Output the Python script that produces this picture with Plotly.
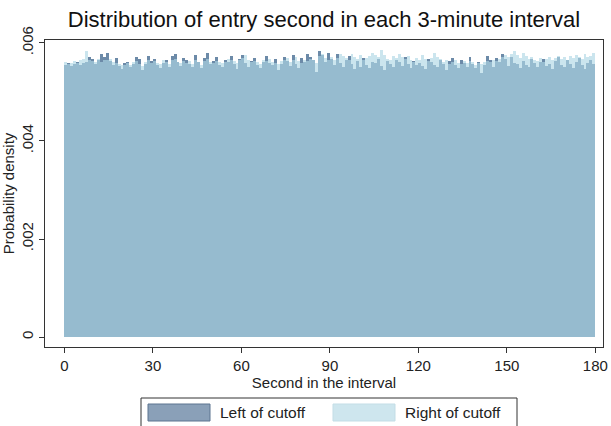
import plotly.graph_objects as go

# Entry second within each 3-minute interval (1-second bins, 0-179)
seconds = list(range(180))

left_density = [
    0.00556, 0.00560, 0.00554, 0.00558, 0.00562, 0.00555, 0.00559, 0.00561, 0.00572, 0.00568,
    0.00557, 0.00566, 0.00578, 0.00571, 0.00580, 0.00563, 0.00555, 0.00569, 0.00553, 0.00547,
    0.00559, 0.00562, 0.00550, 0.00557, 0.00571, 0.00567, 0.00545, 0.00558, 0.00574, 0.00563,
    0.00568, 0.00556, 0.00549, 0.00560, 0.00565, 0.00552, 0.00573, 0.00577, 0.00561, 0.00554,
    0.00570, 0.00566, 0.00558, 0.00551, 0.00575, 0.00562, 0.00548, 0.00569, 0.00579, 0.00557,
    0.00563, 0.00572, 0.00555, 0.00550, 0.00566, 0.00561, 0.00574, 0.00558, 0.00547, 0.00568,
    0.00576, 0.00559, 0.00552, 0.00564, 0.00570, 0.00556, 0.00549, 0.00562, 0.00573, 0.00560,
    0.00555, 0.00567, 0.00545, 0.00558, 0.00571, 0.00563, 0.00553, 0.00576, 0.00557, 0.00549,
    0.00569, 0.00561, 0.00578, 0.00572, 0.00566, 0.00541, 0.00584, 0.00575, 0.00562, 0.00580,
    0.00568, 0.00555, 0.00577, 0.00560, 0.00551, 0.00565, 0.00573, 0.00558, 0.00546, 0.00564,
    0.00552, 0.00570, 0.00556, 0.00548, 0.00562, 0.00559, 0.00567, 0.00553, 0.00545, 0.00563,
    0.00557, 0.00550, 0.00566, 0.00561, 0.00554, 0.00572, 0.00558, 0.00549, 0.00564, 0.00556,
    0.00560, 0.00553, 0.00547, 0.00568, 0.00562, 0.00555, 0.00551, 0.00566, 0.00558, 0.00544,
    0.00563, 0.00570, 0.00556, 0.00549, 0.00565, 0.00559, 0.00552, 0.00571, 0.00557, 0.00548,
    0.00562, 0.00538, 0.00555, 0.00574, 0.00566, 0.00550, 0.00569, 0.00561, 0.00577, 0.00568,
    0.00553, 0.00572, 0.00560, 0.00557, 0.00549, 0.00563, 0.00555, 0.00552, 0.00567, 0.00559,
    0.00550, 0.00561, 0.00568, 0.00554, 0.00558, 0.00547, 0.00563, 0.00572, 0.00556, 0.00551,
    0.00565, 0.00557, 0.00549, 0.00562, 0.00570, 0.00555, 0.00546, 0.00560, 0.00566, 0.00558,
]

right_density = [
    0.00562, 0.00558, 0.00560, 0.00563, 0.00559, 0.00566, 0.00568, 0.00584, 0.00566, 0.00563,
    0.00561, 0.00568, 0.00562, 0.00566, 0.00565, 0.00567, 0.00561, 0.00560, 0.00558, 0.00555,
    0.00556, 0.00559, 0.00556, 0.00561, 0.00563, 0.00558, 0.00553, 0.00562, 0.00565, 0.00559,
    0.00563, 0.00560, 0.00557, 0.00565, 0.00561, 0.00558, 0.00566, 0.00568, 0.00562, 0.00560,
    0.00564, 0.00560, 0.00563, 0.00558, 0.00566, 0.00561, 0.00556, 0.00563, 0.00567, 0.00562,
    0.00560, 0.00564, 0.00561, 0.00559, 0.00562, 0.00567, 0.00565, 0.00563, 0.00560, 0.00566,
    0.00570, 0.00575, 0.00565, 0.00561, 0.00564, 0.00562, 0.00558, 0.00566, 0.00563, 0.00568,
    0.00562, 0.00560, 0.00557, 0.00563, 0.00566, 0.00569, 0.00562, 0.00565, 0.00571, 0.00563,
    0.00560, 0.00566, 0.00563, 0.00568, 0.00565, 0.00559, 0.00574, 0.00577, 0.00570, 0.00566,
    0.00572, 0.00565, 0.00569, 0.00578, 0.00574, 0.00570, 0.00566, 0.00577, 0.00572, 0.00568,
    0.00575, 0.00566, 0.00570, 0.00573, 0.00580, 0.00576, 0.00571, 0.00586, 0.00575, 0.00568,
    0.00565, 0.00573, 0.00569, 0.00577, 0.00571, 0.00567, 0.00574, 0.00566, 0.00562, 0.00570,
    0.00566, 0.00575, 0.00568, 0.00563, 0.00570, 0.00579, 0.00572, 0.00567, 0.00561, 0.00565,
    0.00558, 0.00562, 0.00566, 0.00560, 0.00557, 0.00563, 0.00559, 0.00564, 0.00561, 0.00556,
    0.00560, 0.00558, 0.00562, 0.00564, 0.00561, 0.00566, 0.00563, 0.00568, 0.00572, 0.00575,
    0.00571, 0.00578, 0.00583, 0.00576, 0.00570, 0.00579, 0.00574, 0.00568, 0.00572, 0.00566,
    0.00563, 0.00569, 0.00561, 0.00567, 0.00572, 0.00566, 0.00570, 0.00574, 0.00568, 0.00571,
    0.00566, 0.00573, 0.00569, 0.00576, 0.00571, 0.00568, 0.00578, 0.00572, 0.00574, 0.00580,
]

x_ticks = [0, 30, 60, 90, 120, 150, 180]
y_ticks = [0, 0.002, 0.004, 0.006]
y_tick_text = ["0", ".002", ".004", ".006"]

LEFT_COLOR = "rgb(108,138,168)"
RIGHT_COLOR = "rgba(174,214,228,0.64)"
FONT = "Liberation Sans, Arial, Helvetica, sans-serif"

bin_centers = [s + 0.5 for s in seconds]

fig = go.Figure()
fig.add_trace(go.Bar(x=bin_centers, y=left_density, width=1.0, name="Left of cutoff",
                     marker=dict(color=LEFT_COLOR, line=dict(width=0))))
fig.add_trace(go.Bar(x=bin_centers, y=right_density, width=1.0, name="Right of cutoff",
                     marker=dict(color=RIGHT_COLOR, line=dict(width=0))))

# plot area in pixels: x 45..603, y 40..347
L, R, T, B = 45, 603, 40, 347
W, H = 611, 426


def px_x(p):
    return (p - L) / (R - L)


def px_y(p):
    return (B - p) / (B - T)


shapes = []
annotations = []
# legend box and swatches drawn below the plot
shapes.append(dict(type="rect", xref="paper", yref="paper",
                   x0=px_x(141), x1=px_x(517), y0=px_y(432), y1=px_y(398),
                   line=dict(color="#333333", width=1), fillcolor="white", layer="above"))
shapes.append(dict(type="rect", xref="paper", yref="paper",
                   x0=px_x(148), x1=px_x(210), y0=px_y(421), y1=px_y(404),
                   line=dict(color="#5d7590", width=1), fillcolor="rgb(138,160,184)"))
shapes.append(dict(type="rect", xref="paper", yref="paper",
                   x0=px_x(333), x1=px_x(395), y0=px_y(421), y1=px_y(404),
                   line=dict(color="#c3dde6", width=1), fillcolor="rgb(206,230,238)"))
annotations.append(dict(text="Left of cutoff", xref="paper", yref="paper",
                        x=px_x(218), y=px_y(412.5), xanchor="left", yanchor="middle",
                        showarrow=False, font=dict(family=FONT, size=15.5, color="#222222")))
annotations.append(dict(text="Right of cutoff", xref="paper", yref="paper",
                        x=px_x(403), y=px_y(412.5), xanchor="left", yanchor="middle",
                        showarrow=False, font=dict(family=FONT, size=15.5, color="#222222")))

fig.update_layout(
    width=W, height=H,
    margin=dict(l=L, r=W - R, t=T, b=H - B, autoexpand=False),
    paper_bgcolor="white", plot_bgcolor="white",
    barmode="overlay", bargap=0,
    showlegend=False,
    title=dict(text="Distribution of entry second in each 3-minute interval",
               xref="paper", x=0.5, xanchor="center",
               yref="container", y=1 - 19 / H, yanchor="middle",
               font=dict(family=FONT, size=22, color="#111111")),
    font=dict(family=FONT, color="#222222"),
    shapes=shapes, annotations=annotations,
)

fig.update_xaxes(
    range=[-6.6, 182.6], tickvals=x_ticks, ticks="outside", ticklen=5,
    tickcolor="#333333", tickfont=dict(size=15), showgrid=False, zeroline=False,
    showline=True, linecolor="#333333", linewidth=1, mirror=True, automargin=False,
    title=dict(text="Second in the interval", font=dict(size=15), standoff=1),
)
fig.update_yaxes(
    range=[-0.000204, 0.006061], tickvals=y_ticks, ticktext=y_tick_text,
    tickangle=-90, ticks="outside", ticklen=5, tickcolor="#333333",
    tickfont=dict(size=15), showgrid=False, zeroline=False,
    showline=True, linecolor="#333333", linewidth=1, mirror=True, automargin=False,
    title=dict(text="Probability density", font=dict(size=15), standoff=0),
)

fig.write_html("out.html")
